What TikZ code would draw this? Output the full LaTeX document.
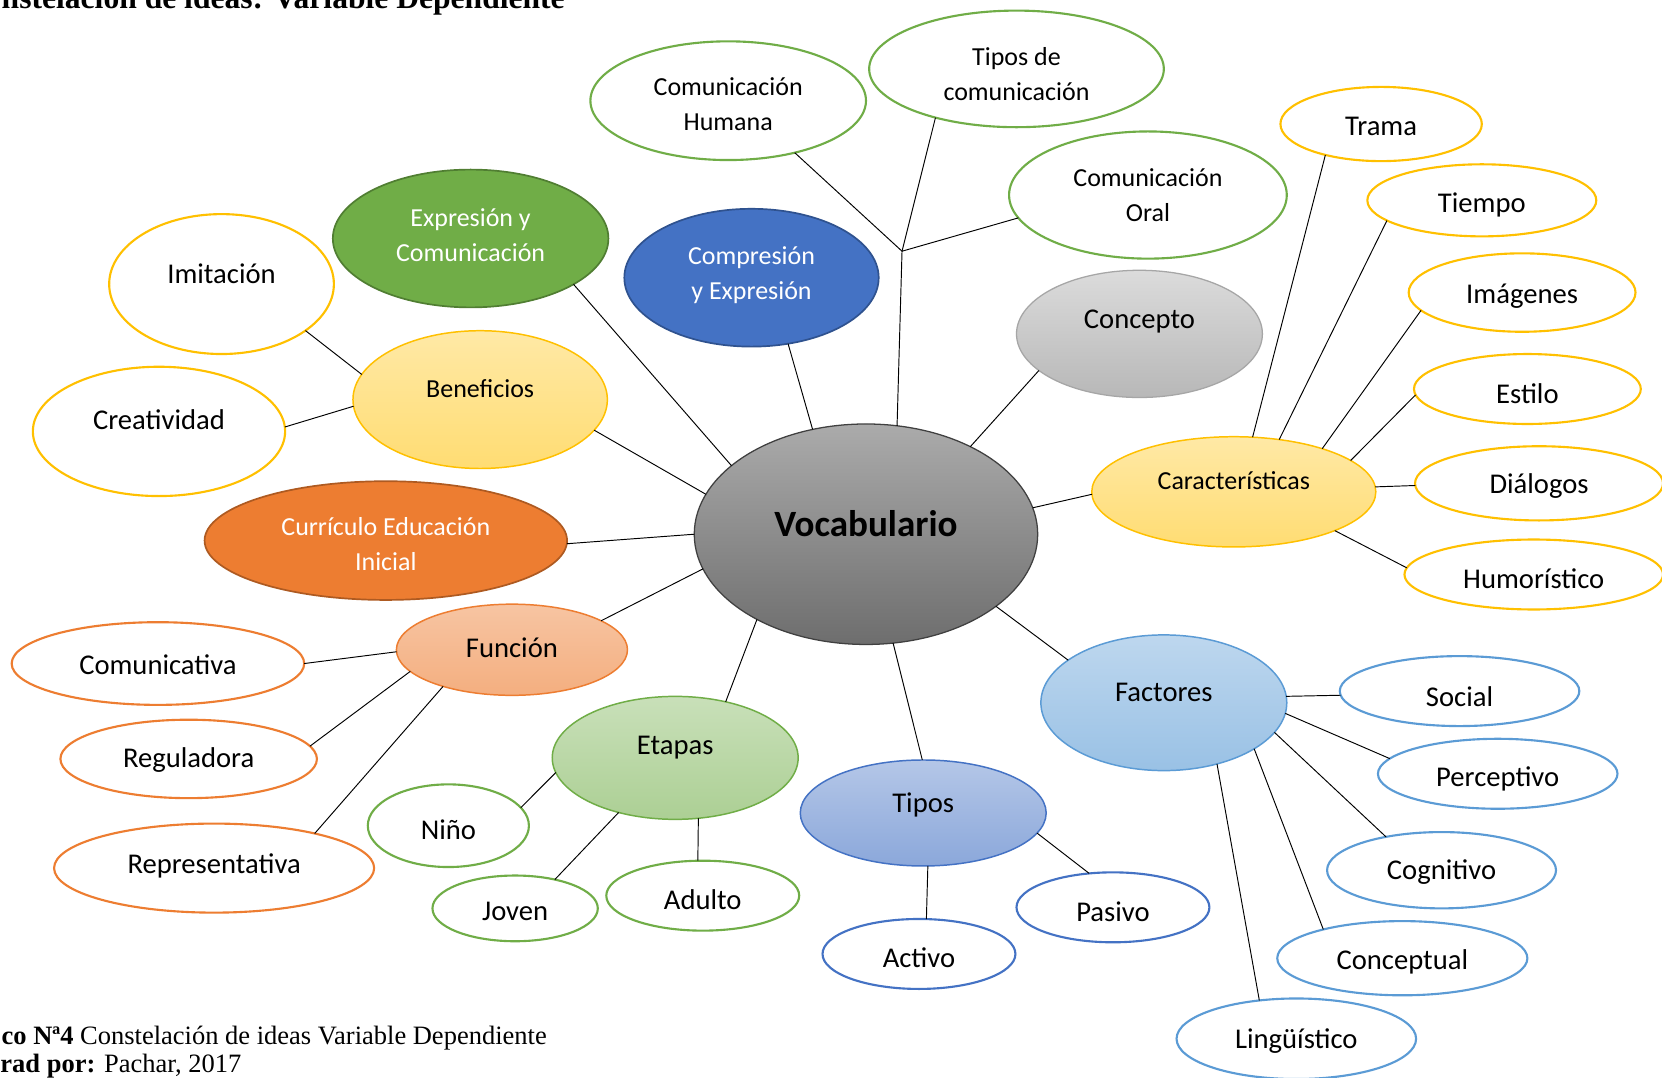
\documentclass[tikz,border=0pt]{standalone}
\usepackage{fontspec}
\setmainfont{Carlito}
\newfontfamily\tnr{Liberation Serif}
\usetikzlibrary{shapes.geometric}
\definecolor{cgreen}{HTML}{70AD47}
\definecolor{cgreenD}{HTML}{507E32}
\definecolor{cblue}{HTML}{4472C4}
\definecolor{cblueD}{HTML}{2F528F}
\definecolor{cyel}{HTML}{FFC000}
\definecolor{cora}{HTML}{ED7D31}
\definecolor{coraD}{HTML}{AE5A21}
\definecolor{clb}{HTML}{5B9BD5}
\tikzset{
  bub/.style={ellipse, line width=2pt, inner sep=0pt, outer sep=0pt},
  oG/.style={bub, draw=cgreen, fill=white},
  oY/.style={bub, draw=cyel, fill=white},
  oO/.style={bub, draw=cora, fill=white},
  oB/.style={bub, draw=cblue, fill=white},
  oL/.style={bub, draw=clb, fill=white},
  fGreen/.style={bub, line width=1.6pt, draw=cgreenD, fill=cgreen},
  fBlue/.style={bub, line width=1.6pt, draw=cblueD, fill=cblue},
  fOrange/.style={bub, line width=1.6pt, draw=coraD, fill=cora},
  fGray/.style={bub, line width=1.2pt, draw=black!75, top color=black!33, bottom color=black!57},
  fLGray/.style={bub, line width=1.2pt, draw=black!35, top color=black!14, bottom color=black!28},
  fYel/.style={bub, line width=1.4pt, draw=cyel, top color=cyel!35, bottom color=cyel!55},
  fSal/.style={bub, line width=1.4pt, draw=cora, top color=cora!45, bottom color=cora!62},
  fLGreen/.style={bub, line width=1.4pt, draw=cgreen, top color=cgreen!38, bottom color=cgreen!58},
  fTip/.style={bub, line width=1.4pt, draw=cblue, top color=cblue!40, bottom color=cblue!62},
  fFac/.style={bub, line width=1.4pt, draw=clb, top color=clb!40, bottom color=clb!62},
  L/.style={font=\fontsize{27}{33}\selectfont, align=center, inner sep=0pt, text=black},
  S/.style={font=\fontsize{24.5}{33}\selectfont, align=center, inner sep=0pt, text=black},
  W/.style={text=white},
  conn/.style={draw=black, line width=0.9pt},
  capt/.style={anchor=base east, inner sep=0pt, font=\tnr\fontsize{25}{27}\selectfont}
}
\begin{document}
\begin{tikzpicture}[x=1pt,y=-1pt]
\useasboundingbox (0,0) rectangle (1568,1017);
\clip (0,0) rectangle (1568,1017);
\fill[white] (0,0) rectangle (1568,1017);

% central
\node[fGray, minimum width=324pt, minimum height=208pt,
  label={[yshift=10pt, inner sep=0pt, font=\bfseries\fontsize{35}{37}\selectfont]center:Vocabulario}] (vo) at (817,504) {};

% top group
\node[oG, minimum width=260pt, minimum height=112pt, label={[S,yshift=-3pt]center:Comunicación\\Humana}] (ch) at (687,95) {};
\node[oG, minimum width=278pt, minimum height=110pt, label={[S,yshift=-5pt]center:Tipos de\\comunicación}] (tc) at (959,65) {};
\node[oG, minimum width=262pt, minimum height=120pt, label={[S,yshift=0pt]center:Comunicación\\Oral}] (co) at (1083,184) {};
\coordinate (hub) at (851,237);

\node[fGreen, minimum width=260pt, minimum height=130pt, label={[S,W,yshift=3.5pt]center:Expresión y\\Comunicación}] (ex) at (444,225) {};
\node[fBlue, minimum width=240pt, minimum height=130pt, label={[S,W,yshift=2.5pt]center:Compresión\\y Expresión}] (cp) at (709,262) {};
\node[fLGray, minimum width=232pt, minimum height=120pt, label={[L,yshift=12pt]center:Concepto}] (cn) at (1075,315) {};

% beneficios
\node[oY, minimum width=212pt, minimum height=132pt, label={[L,yshift=10pt]center:Imitación}] (im) at (209,268) {};
\node[fYel, minimum width=240pt, minimum height=130pt, label={[S,yshift=10pt]center:Beneficios}] (be) at (453,377) {};
\node[oY, minimum width=238pt, minimum height=122pt, label={[L,yshift=11pt]center:Creatividad}] (cr) at (150,407) {};

\node[fOrange, minimum width=342pt, minimum height=112pt, label={[S,W,yshift=-3.5pt]center:Currículo Educación\\Inicial}] (cu) at (364,510) {};

% funcion
\node[fSal, minimum width=218pt, minimum height=86pt, label={[L,yshift=2pt]center:Función}] (fu) at (483,613) {};
\node[oO, minimum width=276pt, minimum height=78pt, label={[L,yshift=-1pt]center:Comunicativa}] (cm) at (149,626) {};
\node[oO, minimum width=242pt, minimum height=74pt, label={[L,yshift=-1pt]center:Reguladora}] (rg) at (178,716) {};
\node[oO, minimum width=302pt, minimum height=84pt, label={[L,yshift=2pt]center:Representativa}] (rp) at (202,819) {};

% etapas
\node[fLGreen, minimum width=232pt, minimum height=116pt, label={[L,yshift=10pt]center:Etapas}] (et) at (637,715) {};
\node[oG, minimum width=152pt, minimum height=78pt, label={[L,yshift=-4pt]center:Niño}] (ni) at (423,779) {};
\node[oG, minimum width=156pt, minimum height=62pt, label={[L,yshift=-3pt]center:Joven}] (jo) at (486,857) {};
\node[oG, minimum width=182pt, minimum height=66pt, label={[L,yshift=-4pt]center:Adulto}] (ad) at (663,845) {};

% tipos
\node[fTip, minimum width=232pt, minimum height=100pt, label={[L,yshift=8pt]center:Tipos}] (ti) at (871,767) {};
\node[oB, minimum width=182pt, minimum height=66pt, label={[L,yshift=-4pt]center:Activo}] (ac) at (867,900) {};
\node[oB, minimum width=182pt, minimum height=66pt, label={[L,yshift=-4pt]center:Pasivo}] (pa) at (1050,856) {};

% factores
\node[fFac, minimum width=232pt, minimum height=128pt, label={[L,yshift=10pt]center:Factores}] (fa) at (1098,663) {};
\node[oL, minimum width=226pt, minimum height=66pt, label={[L,yshift=-5pt]center:Social}] (so) at (1377,652) {};
\node[oL, minimum width=226pt, minimum height=66pt, label={[L,yshift=-5pt]center:Perceptivo}] (pe) at (1413,730) {};
\node[oL, minimum width=216pt, minimum height=72pt, label={[L,yshift=-2pt]center:Cognitivo}] (cg) at (1360,821) {};
\node[oL, minimum width=236pt, minimum height=70pt, label={[L,yshift=-3pt]center:Conceptual}] (cc) at (1323,904) {};
\node[oL, minimum width=226pt, minimum height=76pt, label={[L,yshift=-2pt]center:Lingüístico}] (li) at (1223,980) {};

% caracteristicas
\node[fYel, minimum width=268pt, minimum height=104pt, label={[S,yshift=11pt]center:Características}] (ca) at (1164,464) {};
\node[oY, minimum width=190pt, minimum height=70pt, label={[L,yshift=-2pt]center:Trama}] (tr) at (1303,117) {};
\node[oY, minimum width=216pt, minimum height=68pt, label={[L,yshift=-4pt]center:Tiempo}] (tp) at (1398,189) {};
\node[oY, minimum width=214pt, minimum height=74pt, label={[L,yshift=-3pt]center:Imágenes}] (ig) at (1436,276) {};
\node[oY, minimum width=214pt, minimum height=66pt, label={[L,yshift=-4pt]center:Estilo}] (es) at (1441,367) {};
\node[oY, minimum width=234pt, minimum height=70pt, label={[L,yshift=-3pt]center:Diálogos}] (di) at (1452,456) {};
\node[oY, minimum width=244pt, minimum height=66pt, label={[L,yshift=-4pt]center:Humorístico}] (hu) at (1447,542) {};

% connectors
\draw[conn] (vo.74) -- (hub);
\draw[conn] (hub) -- (ch.322);
\draw[conn] (hub) -- (tc.211);
\draw[conn] (hub) -- (co.190);
\draw[conn] (ex.336) -- (vo.153);
\draw[conn] (cp.299) -- (vo.117);
\draw[conn] (cn.200) -- (vo.40);
\draw[conn] (ca.181) -- (vo.9);
\draw[conn] (be.345) -- (vo.166);
\draw[conn] (cu.359) -- (vo.180);
\draw[conn] (fu.18) -- (vo.192);
\draw[conn] (et.48) -- (vo.218);
\draw[conn] (ti.91) -- (vo.284);
\draw[conn] (fa.156) -- (vo.331);
\draw[conn] (im.331) -- (be.168);
\draw[conn] (cr.2) -- (be.183);
\draw[conn] (cm.0) -- (fu.181);
\draw[conn] (rg.6) -- (fu.192);
\draw[conn] (rp.19) -- (fu.208);
\draw[conn] (ni.14) -- (et.187);
\draw[conn] (jo.36) -- (et.224);
\draw[conn] (ad.98) -- (et.291);
\draw[conn] (ac.78) -- (ti.275);
\draw[conn] (pa.125) -- (ti.350);
\draw[conn] (so.182) -- (fa.3);
\draw[conn] (pe.172) -- (fa.355);
\draw[conn] (cg.149) -- (fa.345);
\draw[conn] (cc.160) -- (fa.333);
\draw[conn] (li.134) -- (fa.311);
\draw[conn] (tr.209) -- (ca.71);
\draw[conn] (tp.192) -- (ca.49);
\draw[conn] (ig.190) -- (ca.26);
\draw[conn] (es.183) -- (ca.15);
\draw[conn] (di.181) -- (ca.2);
\draw[conn] (hu.177) -- (ca.339);

% captions
\node[anchor=base east, inner sep=0pt, font=\tnr\bfseries\fontsize{29.8}{31}\selectfont] (title) at (533,8) {nstelación de ideas: Variable Dependiente};
\node[capt] (cap1) at (516,985) {\textbf{co Nª4} Constelación de ideas Variable Dependiente};
\node[capt] (cap2) at (228,1012) {\textbf{rad por:} Pachar, 2017};
\end{tikzpicture}
\end{document}
